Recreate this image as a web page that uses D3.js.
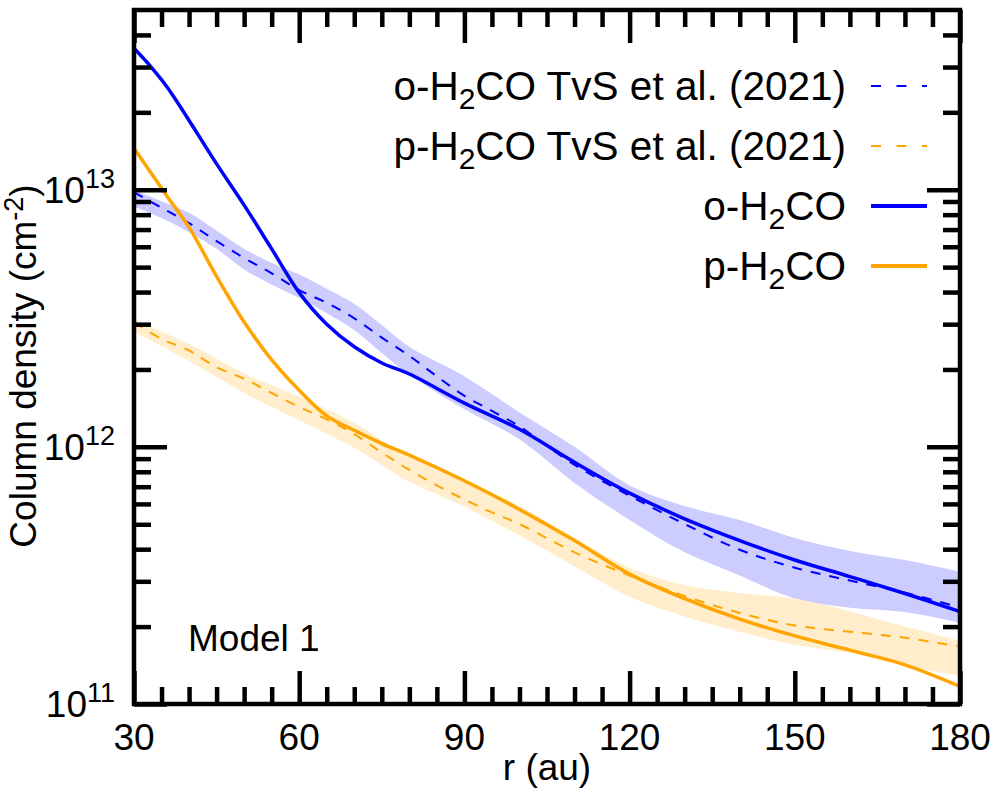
<!DOCTYPE html>
<html><head><meta charset="utf-8">
<script src="https://cdn.jsdelivr.net/npm/d3@7"></script>
<style>
body{margin:0;background:#fff}
svg{display:block}
text{font-family:"Liberation Sans",Arial,Helvetica,sans-serif;fill:#000}
</style>
</head><body>
<svg id="chart" width="1004" height="791"></svg>
<script>
// ---------------- data ----------------
const rModel = [30,33,36,40,45,50,55,60,65,70,75,80,90,100,110,120,130,140,150,160,170,180];
const oModel = [3.55e13,3.02e13,2.51e13,1.86e13,1.26e13,8.71e12,5.89e12,3.98e12,3.00e12,2.45e12,2.12e12,1.92e12,1.48e12,1.17e12,8.71e11,6.61e11,5.25e11,4.32e11,3.63e11,3.13e11,2.69e11,2.29e11];
const pModel = [1.45e13,1.17e13,9.44e12,7.14e12,4.60e12,3.06e12,2.18e12,1.66e12,1.32e12,1.16e12,1.03e12,9.29e11,7.38e11,5.71e11,4.32e11,3.20e11,2.57e11,2.14e11,1.84e11,1.62e11,1.42e11,1.17e11];

const rObs = [30,35,40,45,50,55,60,65,70,75,80,85,90,95,100,110,120,130,140,150,160,170,180];
const oObs = [9.77e12,8.51e12,7.41e12,6.31e12,5.43e12,4.73e12,4.07e12,3.63e12,3.16e12,2.66e12,2.26e12,1.88e12,1.58e12,1.38e12,1.20e12,8.51e11,6.46e11,5.01e11,3.98e11,3.39e11,3.02e11,2.71e11,2.37e11];
const pObs = [3.05e12,2.63e12,2.37e12,2.04e12,1.84e12,1.62e12,1.43e12,1.28e12,1.12e12,9.50e11,8.13e11,7.08e11,6.24e11,5.56e11,5.01e11,3.89e11,3.16e11,2.63e11,2.26e11,2.02e11,1.91e11,1.81e11,1.67e11];

const rOBand = [30,35,40,45,50,55,60,65,70,75,80,90,100,110,120,130,140,150,160,170,180];
const oBandHi = [1.00e13,9.02e12,8.13e12,6.92e12,5.89e12,5.19e12,4.68e12,4.12e12,3.60e12,2.98e12,2.45e12,1.88e12,1.36e12,1.00e12,7.08e11,5.89e11,5.19e11,4.42e11,3.94e11,3.63e11,3.27e11];
const oBandLo = [8.61e12,7.76e12,6.84e12,5.89e12,4.90e12,4.27e12,3.80e12,3.31e12,2.85e12,2.32e12,1.91e12,1.40e12,1.07e12,7.24e11,5.20e11,3.89e11,3.16e11,2.57e11,2.37e11,2.28e11,2.07e11];

const rPBand = [30,40,50,60,70,75,80,90,100,110,120,130,140,150,160,170,180];
const pBandHi = [3.13e12,2.51e12,1.93e12,1.57e12,1.24e12,1.06e12,9.12e11,7.45e11,5.89e11,4.42e11,3.39e11,2.90e11,2.70e11,2.57e11,2.29e11,2.00e11,1.76e11];
const pBandLo = [2.81e12,2.16e12,1.62e12,1.27e12,9.91e11,8.51e11,7.31e11,5.85e11,4.52e11,3.43e11,2.61e11,2.19e11,1.91e11,1.70e11,1.58e11,1.41e11,1.29e11];

const xTicks = [30,60,90,120,150,180];
const yTicks = [1e11,1e12,1e13];
const yTickExp = ["11","12","13"];

const legendItems = [
  {pre:"o-H", post:"CO TvS et al. (2021)", color:"#0000ff", dash:"10,15.5", w:2},
  {pre:"p-H", post:"CO TvS et al. (2021)", color:"#ffa500", dash:"10,15.5", w:2},
  {pre:"o-H", post:"CO", color:"#0000ff", dash:null, w:4},
  {pre:"p-H", post:"CO", color:"#ffa500", dash:null, w:4}
];

// ---------------- layout ----------------
const m = {left:134, right:960, top:10, bottom:704};
const svg = d3.select("#chart");
const x = d3.scaleLinear().domain([30,180]).range([m.left, m.right]);
const y = d3.scaleLog().domain([1e11,5e13]).range([m.bottom, m.top]);

svg.append("defs").append("clipPath").attr("id","clip")
  .append("rect").attr("x",m.left).attr("y",m.top)
  .attr("width",m.right-m.left).attr("height",m.bottom-m.top);

const plot = svg.append("g").attr("clip-path","url(#clip)");

const zip = (rs, vs) => rs.map((r,i)=>({r, v:vs[i]}));
const zip3 = (rs, lo, hi) => rs.map((r,i)=>({r, lo:lo[i], hi:hi[i]}));

const curve = d3.curveCatmullRom.alpha(0.5);
const line = d3.line().x(d=>x(d.r)).y(d=>y(d.v)).curve(curve);
const area = d3.area().x(d=>x(d.r)).y0(d=>y(d.lo)).y1(d=>y(d.hi)).curve(curve);

plot.append("path").datum(zip3(rOBand,oBandLo,oBandHi)).attr("d",area).attr("fill","#ccccff");
plot.append("path").datum(zip3(rPBand,pBandLo,pBandHi)).attr("d",area).attr("fill","#ffedcc");

plot.append("path").datum(zip(rObs,oObs)).attr("d",line)
  .attr("fill","none").attr("stroke","#0000ff").attr("stroke-width",2).attr("stroke-dasharray","10,9");
plot.append("path").datum(zip(rObs,pObs)).attr("d",line)
  .attr("fill","none").attr("stroke","#ffa500").attr("stroke-width",2).attr("stroke-dasharray","10,9");

plot.append("path").datum(zip(rModel,oModel)).attr("d",line)
  .attr("fill","none").attr("stroke","#0000ff").attr("stroke-width",3.5);
plot.append("path").datum(zip(rModel,pModel)).attr("d",line)
  .attr("fill","none").attr("stroke","#ffa500").attr("stroke-width",3.5);

// ---------------- ticks ----------------
const MAJ = 33, MIN = 17, TW = 4.5;
const xMinor = d3.range(30,181,5).filter(v=>xTicks.indexOf(v)<0);
const yMinor = [];
[1e11,1e12,1e13].forEach(d=>{ for(let k=2;k<=9;k++){ const v=k*d; if(v<5e13) yMinor.push(v);} });

function tickAxis(axisFn, scale, vals, size, transform){
  const g = svg.append("g").attr("transform",transform)
    .call(axisFn(scale).tickValues(vals).tickSize(size).tickFormat(""));
  g.select(".domain").remove();
  g.selectAll(".tick line").attr("stroke","#000").attr("stroke-width",TW);
}
tickAxis(d3.axisBottom, x, xTicks, -MAJ, `translate(0,${m.bottom})`);
tickAxis(d3.axisBottom, x, xMinor, -MIN, `translate(0,${m.bottom})`);
tickAxis(d3.axisTop, x, xTicks, -MAJ, `translate(0,${m.top})`);
tickAxis(d3.axisTop, x, xMinor, -MIN, `translate(0,${m.top})`);
tickAxis(d3.axisLeft, y, yTicks, -MAJ, `translate(${m.left},0)`);
tickAxis(d3.axisLeft, y, yMinor, -MIN, `translate(${m.left},0)`);
tickAxis(d3.axisRight, y, yTicks, -MAJ, `translate(${m.right},0)`);
tickAxis(d3.axisRight, y, yMinor, -MIN, `translate(${m.right},0)`);

svg.append("rect").attr("x",m.left).attr("y",m.top)
  .attr("width",m.right-m.left).attr("height",m.bottom-m.top)
  .attr("fill","none").attr("stroke","#000").attr("stroke-width",TW);

// ---------------- labels ----------------
const FS = 37;
svg.append("g").selectAll("text").data(xTicks).join("text")
  .attr("x",d=>x(d)).attr("y",750).attr("text-anchor","middle")
  .attr("font-size",FS).text(d=>d);

yTicks.forEach((v,i)=>{
  const t = svg.append("text").attr("x",115).attr("y",y(v)+13)
    .attr("text-anchor","end").attr("font-size",FS);
  t.append("tspan").text("10");
  t.append("tspan").attr("dy",-15).attr("font-size",27).text(yTickExp[i]);
});

svg.append("text").attr("x",547).attr("y",780).attr("text-anchor","middle")
  .attr("font-size",FS).text("r (au)");

const yl = svg.append("text").attr("transform","translate(36,366) rotate(-90)")
  .attr("text-anchor","middle").attr("font-size",FS);
yl.append("tspan").text("Column density (cm");
yl.append("tspan").attr("dy",-13).attr("font-size",27).text("-2");
yl.append("tspan").attr("dy",13).text(")");

svg.append("text").attr("x",188).attr("y",651).attr("font-size",FS).text("Model 1");

// ---------------- legend ----------------
const LFS = 40.5;
legendItems.forEach((d,i)=>{
  const base = 100 + i*60;
  const t = svg.append("text").attr("x",846).attr("y",base)
    .attr("text-anchor","end").attr("font-size",LFS);
  t.append("tspan").text(d.pre);
  t.append("tspan").attr("dy",9).attr("font-size",30).text("2");
  t.append("tspan").attr("dy",-9).text(d.post);
  const ln = svg.append("line").attr("x1",871).attr("x2",927)
    .attr("y1",base-14).attr("y2",base-14)
    .attr("stroke",d.color).attr("stroke-width",d.w);
  if(d.dash) ln.attr("stroke-dasharray",d.dash);
});
</script>
</body></html>
